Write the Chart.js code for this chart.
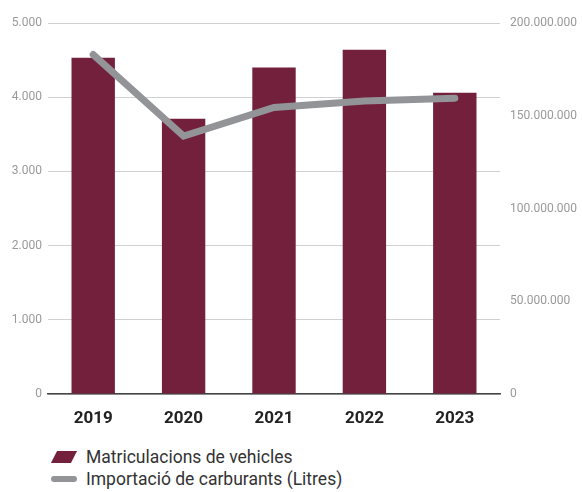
<!DOCTYPE html>
<html>
<head>
<meta charset="utf-8">
<script src="https://cdn.jsdelivr.net/npm/chart.js@4"></script>
<style>
  body { margin: 0; background: #fff; font-family: Roboto, sans-serif; }
  #wrap { position: relative; width: 582px; height: 492px; }
  #chart { position: absolute; left: 0; top: 0; }
  .legend { position: absolute; left: 51px; top: 446px; color: #333; font-size: 17.5px; }
  .item { display: flex; align-items: center; height: 22px; }
  .bar-mark { width: 20px; height: 12px; background: #73203d; transform: skewX(-27deg); margin-left: 3px; margin-right: 12px; }
  .line-mark { width: 26px; height: 6px; border-radius: 3px; background: #929497; margin-right: 9px; }
</style>
</head>
<body>
<div id="wrap">
  <canvas id="chart" width="582" height="432"></canvas>
  <div class="legend">
    <div class="item"><span class="bar-mark"></span>Matriculacions de vehicles</div>
    <div class="item"><span class="line-mark"></span>Importació de carburants (Litres)</div>
  </div>
</div>
<script>
const years = ['2019', '2020', '2021', '2022', '2023'];
const vehicles = [4530, 3710, 4400, 4640, 4060];
const fuel = [183000000, 139000000, 154500000, 158000000, 159500000];

const dots = (v) => String(v).replace(/\B(?=(\d{3})+(?!\d))/g, '.');

const ctx = document.getElementById('chart').getContext('2d');
const config = {
  type: 'bar',
  data: {
    labels: years,
    datasets: [
      {
        type: 'line',
        label: 'Importació de carburants (Litres)',
        data: fuel,
        yAxisID: 'y2',
        borderColor: '#929497',
        borderWidth: 7,
        borderCapStyle: 'round',
        pointRadius: 0,
        tension: 0,
        order: 0,
      },
      {
        label: 'Matriculacions de vehicles',
        data: vehicles,
        yAxisID: 'y',
        backgroundColor: '#73203d',
        categoryPercentage: 1,
        barPercentage: 0.48,
        order: 1,
      },
    ],
  },
  options: {
    responsive: false,
    animation: false,
    layout: { padding: { top: 23 } },
    plugins: {
      legend: { display: false },
      tooltip: { enabled: false },
    },
    scales: {
      x: {
        grid: { display: false },
        border: { display: true, color: '#444', width: 1.5 },
        ticks: {
          color: '#222',
          padding: 7,
          font: { family: 'Roboto', size: 17, weight: 'bold' },
        },
        afterFit: (s) => { s.height = 38; },
      },
      y: {
        position: 'left',
        min: 0,
        max: 5000,
        ticks: {
          stepSize: 1000,
          color: '#999',
          padding: 6,
          font: { family: 'Roboto', size: 12 },
          callback: (v) => dots(v),
        },
        grid: { color: '#d0d0d0', drawTicks: false },
        border: { display: false },
        afterFit: (s) => { s.width = 48; },
      },
      y2: {
        position: 'right',
        min: 0,
        max: 200000000,
        ticks: {
          stepSize: 50000000,
          color: '#999',
          padding: 10,
          font: { family: 'Roboto', size: 12 },
          callback: (v) => dots(v),
        },
        grid: { display: false, drawTicks: false },
        border: { display: false },
        afterFit: (s) => { s.width = 82; },
      },
    },
  },
};
new Chart(ctx, config);
</script>
</body>
</html>
